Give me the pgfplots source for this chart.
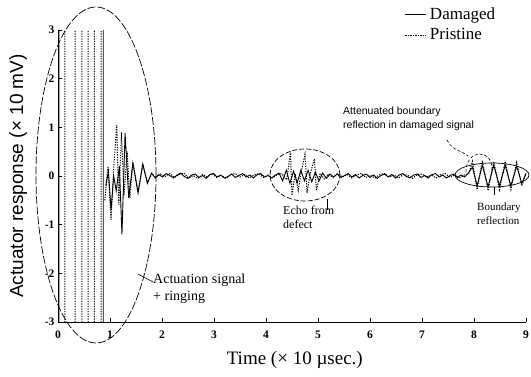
\documentclass[border=0pt]{standalone}
\usepackage{fontspec}
\setmainfont{Liberation Serif}
\setsansfont{Liberation Sans}
\usepackage{pgfplots}
\usepackage{pgfplotstable}
\pgfplotsset{compat=1.18}

\pgfplotstableread{
t v
0.02 -3
0.02 3
0.02 nan
0.87 -3
0.87 3
0.87 nan
0.92 -0.20
0.97 0.10
1.02 -0.70
1.07 0.00
1.12 -0.30
1.18 0.20
1.23 -1.20
1.29 0.88
1.36 -0.45
1.44 0.27
1.54 -0.35
1.63 0.25
1.72 -0.15
1.80 0.06
1.87 -0.04
1.94 0.03
2.01 -0.02
2.08 0.05
2.15 0.01
2.22 -0.04
2.29 0.02
2.36 0.06
2.43 -0.01
2.50 -0.05
2.57 0.02
2.64 0.04
2.71 -0.03
2.78 0.01
2.85 -0.05
2.92 0.03
2.99 0.05
3.06 -0.02
3.13 0.02
3.20 -0.04
3.27 -0.01
3.34 0.04
3.41 -0.03
3.48 0.01
3.55 0.05
3.62 -0.02
3.69 0.02
3.76 -0.04
3.83 0.03
3.90 0.05
3.97 -0.02
4.04 0.01
4.11 -0.04
4.18 0.02
4.25 0.06
4.32 -0.10
4.39 0.12
4.46 -0.15
4.53 0.10
4.60 -0.14
4.67 0.12
4.74 -0.10
4.81 0.12
4.88 -0.12
4.95 0.08
5.02 -0.10
5.09 0.06
5.16 -0.05
5.23 0.04
5.30 -0.02
5.37 0.04
5.44 -0.03
5.51 0.01
5.58 0.05
5.65 -0.02
5.72 0.03
5.79 -0.04
5.86 0.01
5.93 0.04
6.00 -0.03
6.07 0.02
6.14 -0.05
6.21 0.01
6.28 0.04
6.35 -0.02
6.42 0.03
6.49 -0.04
6.56 0.02
6.63 0.05
6.70 -0.01
6.77 -0.04
6.84 0.02
6.91 0.04
6.98 -0.03
7.05 0.01
7.12 -0.04
7.19 0.03
7.26 0.05
7.33 -0.02
7.40 0.02
7.47 -0.04
7.54 0.01
7.61 0.04
7.68 -0.03
7.75 0.02
7.82 -0.02
7.89 0.06
7.97 0.18
8.06 -0.20
8.16 0.22
8.27 -0.22
8.38 0.22
8.49 -0.20
8.60 0.22
8.71 -0.20
8.82 0.20
8.92 -0.15
9.00 0.05
}\damaged

\pgfplotstableread{
t v
0.13 -3
0.13 3
0.13 nan
0.33 -3
0.33 3
0.33 nan
0.46 -3
0.46 3
0.46 nan
0.58 -3
0.58 3
0.58 nan
0.70 -3
0.70 3
0.70 nan
0.83 -3
0.83 3
0.83 nan
0.90 -0.50
0.96 0.20
1.02 -0.90
1.08 0.30
1.13 1.05
1.17 -0.60
1.22 0.90
1.27 -0.40
1.33 0.50
1.38 -0.45
1.44 0.27
1.54 -0.33
1.63 0.23
1.72 -0.14
1.80 0.05
1.88 -0.03
1.97 0.04
2.06 -0.01
2.15 0.05
2.24 -0.03
2.33 0.03
2.42 0.06
2.51 -0.04
2.60 0.01
2.69 -0.05
2.78 0.03
2.87 -0.02
2.96 0.05
3.05 -0.03
3.14 0.01
3.23 -0.05
3.32 0.03
3.41 0.05
3.50 -0.02
3.59 0.03
3.68 -0.04
3.77 0.02
3.86 0.05
3.95 -0.03
4.04 0.02
4.13 -0.04
4.22 0.03
4.30 0.05
4.40 -0.08
4.47 0.50
4.50 -0.40
4.56 0.05
4.62 -0.30
4.68 0.10
4.75 0.45
4.79 -0.35
4.85 0.05
4.93 0.35
4.97 -0.30
5.04 0.05
5.12 -0.06
5.20 0.04
5.29 -0.03
5.38 0.05
5.47 -0.02
5.56 0.03
5.65 -0.04
5.74 0.02
5.83 0.05
5.92 -0.03
6.01 0.01
6.10 -0.04
6.19 0.03
6.28 0.05
6.37 -0.02
6.46 0.02
6.55 -0.04
6.64 0.03
6.73 0.01
6.82 -0.05
6.91 0.03
7.00 0.04
7.09 -0.02
7.18 0.02
7.27 -0.04
7.36 0.03
7.45 0.05
7.54 -0.03
7.63 0.02
7.72 -0.04
7.81 0.02
7.90 0.05
7.97 0.30
8.06 -0.28
8.16 0.32
8.27 -0.30
8.38 0.30
8.49 -0.28
8.60 0.30
8.71 -0.28
8.82 0.28
8.92 -0.20
9.00 0.05
}\pristine

\newcommand{\px}[2]{({(#1-58)*1pt},{(322-#2)*1pt})}

\begin{document}
\begin{tikzpicture}
\begin{axis}[
  scale only axis, width=468pt, height=292pt,
  xmin=0, xmax=9, ymin=-3, ymax=3,
  axis x line*=bottom, axis y line*=left,
  axis line style={line width=0.9pt, -},
  xtick={0,...,9}, ytick={-3,...,3},
  tick align=inside, major tick length=4pt,
  tick style={line width=0.8pt, black},
  ticklabel style={font=\fontsize{11.5}{11.5}\selectfont\bfseries},
  xticklabel style={yshift=-5pt},
  /pgf/number format/assume math mode=true,
  xlabel={Time (× 10 µsec.)},
  ylabel={Actuator response (× 10 mV)},
  xlabel style={font=\fontsize{19}{19}\selectfont, at={(axis description cs:0.506,-0.13)}, anchor=center},
  ylabel style={font=\sffamily\fontsize{19}{19}\selectfont, at={(axis description cs:-0.085,0.5)}, anchor=center},
  clip=false,
  unbounded coords=jump,
  legend cell align=left,
  legend image code/.code={\draw[#1] (0pt,0pt) -- (21pt,0pt);},
  legend style={at={(axis description cs:0.741,1.078)}, anchor=north west,
    draw=none, fill=none, font=\fontsize{17}{17}\selectfont, row sep=8pt, inner sep=0pt,
    nodes={inner xsep=3pt, inner ysep=0pt}},
]
\addplot[black, line width=0.9pt] table[x=t, y=v] {\damaged};
\addlegendentry{Damaged}
\addplot[black, line width=1pt, dash pattern=on 1.2pt off 1.3pt] table[x=t, y=v] {\pristine};
\addlegendentry{Pristine}
\end{axis}
% annotations
\draw[line width=0.7pt, dash pattern=on 8pt off 2pt] \px{96}{175} ellipse [x radius=60pt, y radius=168pt];
\draw[line width=0.6pt] \px{138}{274} -- \px{153}{282};
\node[anchor=west, align=left, font=\fontsize{14}{17}\selectfont, inner sep=0pt] at \px{153}{289} {Actuation signal\\+ ringing};

\draw[line width=0.7pt, dash pattern=on 5pt off 2pt] \px{305}{175} ellipse [x radius=35pt, y radius=26pt];
\draw[line width=0.6pt] \px{327}{199} -- \px{327}{210};
\node[anchor=north west, align=left, font=\fontsize{12}{14}\selectfont, inner sep=0pt] at \px{283}{206} {Echo from\\defect};

\draw[line width=0.7pt] \px{492}{175} ellipse [x radius=37pt, y radius=12pt];
\draw[line width=0.6pt] \px{494}{187} -- \px{494}{195};
\node[anchor=north west, align=left, font=\fontsize{11}{14}\selectfont, inner sep=0pt] at \px{477}{203} {Boundary\\reflection};

\node[anchor=north west, align=left, font=\sffamily\fontsize{10.5}{14}\selectfont, inner sep=0pt] at \px{343}{107} {Attenuated boundary\\reflection in damaged signal};
\draw[line width=0.6pt, densely dashed] \px{447}{140} .. controls \px{452}{150} and \px{460}{150} .. \px{468}{156};
\draw[line width=0.6pt, densely dashed] \px{466}{172} .. controls \px{466}{148} and \px{494}{148} .. \px{492}{172};

\pgfresetboundingbox
\path \px{0}{0} rectangle \px{531}{376};
\end{tikzpicture}
\end{document}
